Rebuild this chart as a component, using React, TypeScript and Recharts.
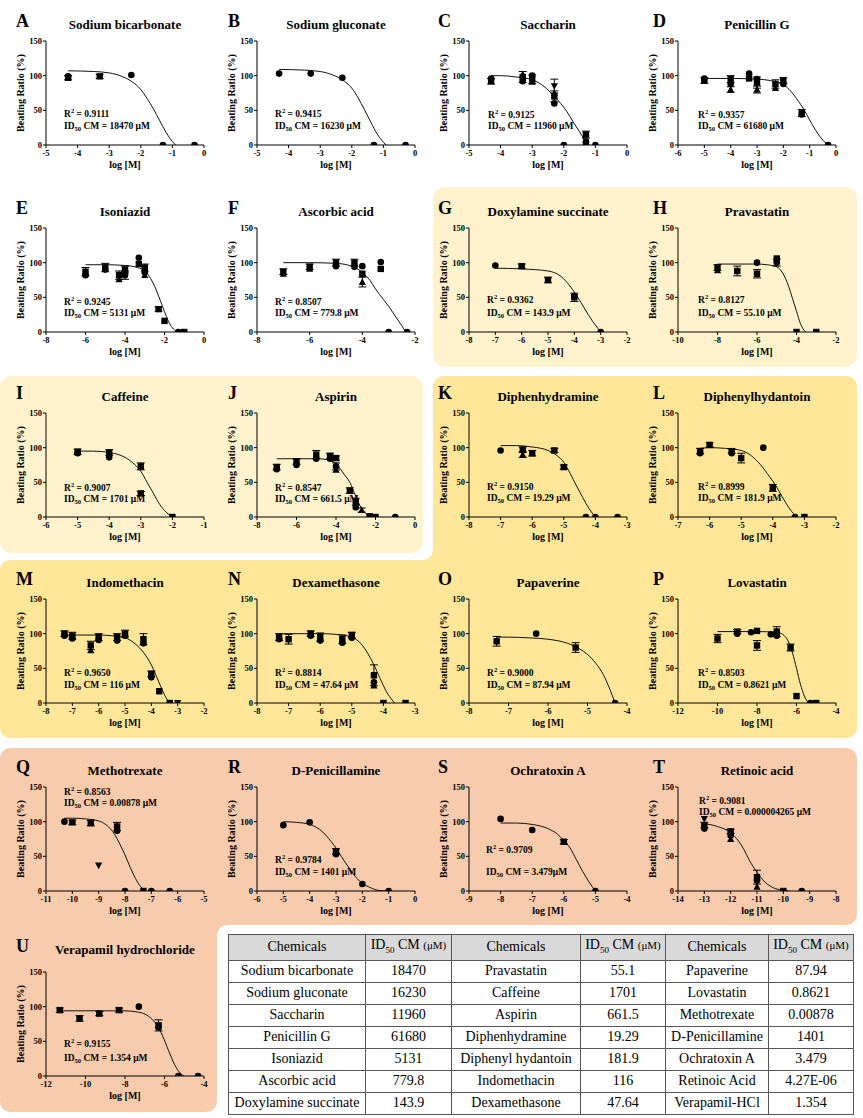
import React from 'react';
import { ComposedChart, Line, Scatter, XAxis, YAxis, ErrorBar } from 'recharts';

type Pair = [number, number];
// [log concentration, beating ratio %, replicate series (0 circle,1 square,2 triangle,3 inverted triangle), SEM]
type Obs = [number, number, number, number?];

const SERIF = "'Liberation Serif', 'Times New Roman', serif";

const letters = ['A', 'B', 'C', 'D', 'E', 'F', 'G', 'H', 'I', 'J', 'K', 'L', 'M', 'N', 'O', 'P', 'Q', 'R', 'S', 'T', 'U'];
const titles = [
  'Sodium bicarbonate', 'Sodium gluconate', 'Saccharin', 'Penicillin G',
  'Isoniazid', 'Ascorbic acid', 'Doxylamine succinate', 'Pravastatin',
  'Caffeine', 'Aspirin', 'Diphenhydramine', 'Diphenylhydantoin',
  'Indomethacin', 'Dexamethasone', 'Papaverine', 'Lovastatin',
  'Methotrexate', 'D-Penicillamine', 'Ochratoxin A', 'Retinoic acid',
  'Verapamil hydrochloride',
];
const r2Values = [
  '0.9111', '0.9415', '0.9125', '0.9357', '0.9245', '0.8507', '0.9362', '0.8127',
  '0.9007', '0.8547', '0.9150', '0.8999', '0.9650', '0.8814', '0.9000', '0.8503',
  '0.8563', '0.9784', '0.9709', '0.9081', '0.9155',
];
const id50Labels = [
  '18470 μM', '16230 μM', '11960 μM', '61680 μM', '5131 μM', '779.8 μM', '143.9 μM', '55.10 μM',
  '1701 μM', '661.5 μM', '19.29 μM', '181.9 μM', '116 μM', '47.64 μM', '87.94 μM', '0.8621 μM',
  '0.00878 μM', '1401 μM', '3.479μM', '0.000004265 μM', '1.354 μM',
];
const xDomains: Pair[] = [
  [-5, 0], [-5, 0], [-5, 0], [-6, 0],
  [-8, 0], [-8, -2], [-8, -2], [-10, -2],
  [-6, -1], [-8, 0], [-8, -3], [-7, -2],
  [-8, -2], [-8, -3], [-8, -4], [-12, -4],
  [-11, -5], [-6, 0], [-9, -4], [-14, -8],
  [-12, -4],
];
const xTickLists: number[][] = [
  [-5, -4, -3, -2, -1, 0], [-5, -4, -3, -2, -1, 0], [-5, -4, -3, -2, -1, 0], [-6, -5, -4, -3, -2, -1, 0],
  [-8, -6, -4, -2, 0], [-8, -6, -4, -2], [-8, -7, -6, -5, -4, -3, -2], [-10, -8, -6, -4, -2],
  [-6, -5, -4, -3, -2, -1], [-8, -6, -4, -2, 0], [-8, -7, -6, -5, -4, -3], [-7, -6, -5, -4, -3, -2],
  [-8, -7, -6, -5, -4, -3, -2], [-8, -7, -6, -5, -4, -3], [-8, -7, -6, -5, -4], [-12, -10, -8, -6, -4],
  [-11, -10, -9, -8, -7, -6, -5], [-6, -5, -4, -3, -2, -1, 0], [-9, -8, -7, -6, -5, -4], [-14, -13, -12, -11, -10, -9, -8],
  [-12, -10, -8, -6, -4],
];
const yTicks = [0, 50, 100, 150];

// fitted curves
const curveA: Pair[] = [[-4.3, 107], [-3.5, 106], [-3, 104], [-2.6, 99], [-2.3, 92], [-2, 80], [-1.8, 67], [-1.6, 52], [-1.4, 35], [-1.2, 18], [-1.0, 5], [-0.9, 0]];
const curveB: Pair[] = [[-4.3, 109], [-3.5, 108], [-3, 106], [-2.6, 101], [-2.3, 94], [-2, 82], [-1.8, 68], [-1.6, 51], [-1.4, 33], [-1.2, 16], [-1.0, 4], [-0.92, 0]];
const curveC: Pair[] = [[-4.3, 100], [-4, 100], [-3.5, 98], [-3, 94], [-2.7, 87], [-2.4, 75], [-2.1, 60], [-1.9, 48], [-1.7, 33], [-1.5, 19], [-1.35, 8], [-1.2, 0]];
const curveD: Pair[] = [[-5, 96], [-4, 96], [-3, 95], [-2.5, 93], [-2, 87], [-1.7, 77], [-1.5, 67], [-1.2, 50], [-1, 36], [-0.7, 17], [-0.5, 7], [-0.3, 0]];
const curveE: Pair[] = [[-6, 97], [-5, 97], [-4, 96], [-3.5, 94], [-3, 88], [-2.7, 77], [-2.5, 66], [-2.3, 52], [-2.1, 37], [-1.9, 22], [-1.7, 10], [-1.5, 3], [-1.3, 0]];
const curveF: Pair[] = [[-7, 100], [-6, 100], [-5, 99], [-4.5, 96], [-4, 86], [-3.7, 74], [-3.5, 62], [-3.2, 47], [-3, 37], [-2.7, 20], [-2.5, 9], [-2.35, 0]];
const curveG: Pair[] = [[-7, 92], [-6, 91], [-5, 88], [-4.5, 80], [-4.2, 68], [-3.9, 52], [-3.6, 33], [-3.3, 15], [-3.1, 5], [-3, 0]];
const curveH: Pair[] = [[-8, 98], [-7, 98], [-6, 98], [-5.5, 97], [-5, 94], [-4.7, 85], [-4.4, 66], [-4.2, 48], [-4, 30], [-3.8, 12], [-3.55, 0]];
const curveI: Pair[] = [[-5, 95], [-4.5, 95], [-4, 93], [-3.5, 86], [-3.2, 76], [-3, 66], [-2.8, 50], [-2.6, 34], [-2.4, 18], [-2.2, 7], [-2, 0]];
const curveJ: Pair[] = [[-7, 84], [-6, 84], [-5, 84], [-4.5, 83], [-4, 77], [-3.6, 62], [-3.3, 50], [-3.0, 30], [-2.8, 17], [-2.6, 8], [-2.4, 3], [-2.2, 1], [-2, 0]];
const curveK: Pair[] = [[-7, 103], [-6.5, 103], [-6, 101], [-5.5, 96], [-5.2, 88], [-5, 79], [-4.8, 63], [-4.6, 45], [-4.4, 28], [-4.2, 12], [-4, 0]];
const curveL: Pair[] = [[-6.3, 99], [-6, 100], [-5.5, 99], [-5, 96], [-4.7, 89], [-4.4, 76], [-4.1, 58], [-3.9, 45], [-3.7, 29], [-3.5, 14], [-3.3, 3], [-3.2, 0]];
const curveM: Pair[] = [[-7.3, 98], [-7, 98], [-6, 98], [-5.5, 97], [-5, 94], [-4.6, 85], [-4.3, 73], [-4, 55], [-3.8, 38], [-3.6, 20], [-3.4, 5], [-3.3, 0]];
const curveN: Pair[] = [[-7.3, 100], [-7, 100], [-6, 100], [-5.5, 99], [-5, 95], [-4.7, 85], [-4.5, 72], [-4.3, 55], [-4.1, 35], [-3.9, 16], [-3.7, 3], [-3.65, 0]];
const curveO: Pair[] = [[-7.3, 95], [-7, 95], [-6.5, 94], [-6, 92], [-5.5, 86], [-5.2, 78], [-5, 70], [-4.8, 58], [-4.6, 41], [-4.45, 22], [-4.3, 0]];
const curveP: Pair[] = [[-10, 103], [-9, 103], [-8, 103], [-7, 102], [-6.7, 99], [-6.4, 88], [-6.2, 72], [-6, 50], [-5.8, 27], [-5.6, 10], [-5.4, 1], [-5.3, 0]];
const curveQ: Pair[] = [[-10.3, 105], [-10, 105], [-9.5, 104], [-9, 101], [-8.7, 95], [-8.4, 82], [-8.2, 68], [-8, 52], [-7.8, 34], [-7.6, 18], [-7.4, 6], [-7.2, 0]];
const curveR: Pair[] = [[-5, 100], [-4.5, 99], [-4, 96], [-3.5, 85], [-3.2, 72], [-3, 62], [-2.8, 50], [-2.5, 33], [-2.2, 18], [-2, 11], [-1.7, 5], [-1.4, 1], [-1, 0]];
const curveS: Pair[] = [[-8, 98], [-7.5, 98], [-7, 96], [-6.5, 90], [-6.2, 82], [-6, 73], [-5.8, 62], [-5.6, 45], [-5.4, 28], [-5.2, 13], [-5, 0]];
const curveT: Pair[] = [[-13, 97], [-12.5, 93], [-12, 84], [-11.7, 72], [-11.5, 60], [-11.3, 45], [-11, 27], [-10.7, 13], [-10.4, 5], [-10, 1], [-9.8, 0]];
const curveU: Pair[] = [[-11.3, 94], [-10, 94], [-9, 94], [-8, 94], [-7.3, 92], [-6.8, 86], [-6.4, 74], [-6.1, 58], [-5.8, 37], [-5.5, 17], [-5.2, 4], [-5, 0]];

const obsA: Obs[] = [[-4.3, 97, 1, 3], [-4.3, 99, 0], [-3.3, 99, 1, 3], [-2.3, 101, 0], [-1.3, 0, 0], [-0.3, 0, 0]];
const obsB: Obs[] = [[-4.3, 103, 0], [-3.3, 103, 0], [-2.3, 97, 0], [-1.3, 0, 0], [-0.3, 0, 0]];
const obsC: Obs[] = [
  [-4.3, 92, 1, 4], [-4.3, 96, 0], [-3.3, 98, 1, 8], [-3.3, 92, 0], [-3.3, 102, 2], [-3, 95, 1, 6], [-3, 100, 0], [-3, 91, 2],
  [-2.3, 85, 3, 10], [-2.3, 70, 1, 8], [-2.3, 60, 0], [-2.3, 75, 2], [-2, 0, 0], [-1.3, 15, 1, 5], [-1.3, 5, 0], [-1.3, 0, 1], [-1, 0, 0],
];
const obsD: Obs[] = [
  [-5, 93, 1, 4], [-5, 96, 0], [-4, 95, 1, 5], [-4, 88, 0], [-4, 80, 2, 4], [-3.3, 103, 0], [-3.3, 96, 1],
  [-3, 90, 1, 8], [-3, 80, 2, 5], [-3, 95, 0], [-2.3, 88, 1, 6], [-2.3, 82, 2], [-2, 93, 1, 4], [-2, 88, 0],
  [-1.3, 46, 1, 5], [-1.3, 44, 0], [-0.3, 0, 0],
];
const obsE: Obs[] = [
  [-6, 87, 1, 6], [-6, 82, 0], [-5, 93, 1, 6], [-5, 90, 0], [-4.3, 82, 1, 6], [-4.3, 76, 2], [-4, 90, 1, 5], [-4, 82, 0, 6],
  [-3.3, 107, 0], [-3.3, 98, 1], [-3, 93, 1, 5], [-3, 86, 0], [-3, 82, 2], [-2.3, 33, 1, 3], [-2, 16, 1], [-1.3, 0, 0], [-1, 0, 1],
];
const obsF: Obs[] = [
  [-7, 87, 1, 4], [-7, 84, 2], [-6, 94, 1, 4], [-6, 91, 2], [-5, 100, 1, 5], [-5, 95, 0], [-4.3, 100, 1, 5], [-4.3, 94, 0],
  [-4, 95, 0], [-4, 84, 1], [-4, 72, 2, 7], [-3.3, 101, 0], [-3.3, 91, 1], [-3, 0, 0], [-2.3, 0, 0],
];
const obsG: Obs[] = [[-7, 96, 0], [-6, 95, 1, 3], [-5, 75, 1, 4], [-4, 50, 1, 6], [-4, 52, 0], [-3, 0, 0]];
const obsH: Obs[] = [
  [-8, 93, 1, 4], [-8, 89, 2], [-7, 88, 1, 7], [-6, 100, 0], [-6, 84, 1, 6], [-5, 106, 1], [-5, 100, 0, 5], [-4, 0, 1], [-3, 0, 1],
];
const obsI: Obs[] = [[-5, 94, 1, 4], [-5, 92, 0], [-4, 93, 1, 4], [-4, 86, 0], [-3, 73, 1, 5], [-3, 34, 1, 3], [-2, 0, 1]];
const obsJ: Obs[] = [
  [-7, 72, 1, 4], [-7, 69, 0], [-6, 80, 1, 4], [-6, 75, 0], [-5, 90, 1, 6], [-5, 84, 0], [-4.3, 88, 1, 4], [-4.3, 84, 0],
  [-4, 85, 1, 3], [-4, 73, 0, 5], [-4, 68, 2], [-3.3, 38, 1, 4], [-3, 22, 1, 5], [-3, 14, 0], [-2.7, 10, 2, 3],
  [-2.3, 1, 1], [-2, 0, 1], [-1, 0, 0],
];
const obsK: Obs[] = [
  [-7, 96, 0], [-6.3, 97, 1, 4], [-6.3, 90, 2, 4], [-6, 92, 1, 4], [-5.3, 96, 1, 3], [-5, 72, 1, 3], [-4.3, 0, 0], [-4, 0, 0], [-3.3, 0, 0],
];
const obsL: Obs[] = [
  [-6.3, 95, 1, 4], [-6.3, 92, 0], [-6, 104, 1, 3], [-5.3, 95, 1, 3], [-5.3, 92, 0], [-5, 85, 1, 7], [-4.3, 100, 0],
  [-4, 42, 1, 5], [-3.3, 0, 0], [-3, 0, 1],
];
const obsM: Obs[] = [
  [-7.3, 100, 1, 4], [-7.3, 97, 0], [-7, 97, 1, 5], [-7, 93, 0], [-6.3, 83, 1, 6], [-6.3, 76, 2], [-6, 95, 1, 5], [-6, 91, 0],
  [-5.3, 95, 1, 5], [-5.3, 90, 0], [-5, 100, 1, 5], [-5, 97, 0], [-4.3, 92, 1, 8], [-4.3, 86, 0], [-4, 42, 1, 4], [-4, 37, 0],
  [-3.7, 17, 1], [-3.3, 0, 1], [-3, 0, 3],
];
const obsN: Obs[] = [
  [-7.3, 95, 1, 5], [-7.3, 92, 0], [-7, 92, 1, 7], [-6.3, 100, 1, 4], [-6.3, 97, 0], [-6, 95, 1, 6], [-6, 90, 0],
  [-5.3, 92, 1, 6], [-5.3, 87, 0], [-5, 98, 1, 4], [-5, 94, 0], [-4.3, 40, 1, 15], [-4.3, 30, 0], [-4.3, 25, 2],
  [-4, 0, 1], [-3.3, 0, 1],
];
const obsO: Obs[] = [[-7.3, 89, 1, 7], [-6.3, 100, 0], [-5.3, 80, 1, 7], [-4.3, 0, 0]];
const obsP: Obs[] = [
  [-10, 93, 1, 6], [-9, 103, 1, 3], [-9, 100, 0], [-8.3, 102, 0], [-8, 104, 1], [-8, 83, 1, 7], [-7.3, 99, 0],
  [-7, 103, 1, 7], [-7, 97, 0], [-6.3, 80, 1, 5], [-6, 10, 1], [-5.3, 0, 0], [-5, 0, 1],
];
const obsQ: Obs[] = [
  [-10.3, 100, 0], [-10, 99, 1, 3], [-9.3, 98, 1, 4], [-9, 37, 3], [-8.3, 93, 1, 6], [-8.3, 87, 0],
  [-8, 0, 0], [-7.3, 0, 1], [-7, 0, 0], [-6.3, 0, 0],
];
const obsR: Obs[] = [[-5, 95, 0], [-4, 99, 0], [-3, 57, 1, 4], [-3, 53, 0], [-2, 10, 0], [-1, 0, 0]];
const obsS: Obs[] = [[-8, 104, 0], [-7, 88, 0], [-6, 71, 1, 3], [-5, 0, 0]];
const obsT: Obs[] = [
  [-13, 104, 3], [-13, 95, 1, 4], [-13, 90, 0], [-12, 86, 1, 3], [-12, 80, 0], [-12, 75, 2],
  [-11, 20, 1, 10], [-11, 15, 0], [-11, 6, 2], [-10, 0, 1], [-9.3, 0, 0],
];
const obsU: Obs[] = [
  [-11.3, 95, 1, 3], [-10.3, 83, 1, 4], [-9.3, 90, 1, 3], [-8.3, 95, 1, 3], [-7.3, 100, 0], [-6.3, 73, 1, 8], [-6.3, 70, 0],
  [-5.3, 0, 0], [-4.3, 0, 0],
];

const curves = [curveA, curveB, curveC, curveD, curveE, curveF, curveG, curveH, curveI, curveJ, curveK, curveL, curveM, curveN, curveO, curveP, curveQ, curveR, curveS, curveT, curveU];
const observations = [obsA, obsB, obsC, obsD, obsE, obsF, obsG, obsH, obsI, obsJ, obsK, obsL, obsM, obsN, obsO, obsP, obsQ, obsR, obsS, obsT, obsU];

// summary table
const tableChemicals = [
  'Sodium bicarbonate', 'Sodium gluconate', 'Saccharin', 'Penicillin G', 'Isoniazid', 'Ascorbic acid', 'Doxylamine succinate',
  'Pravastatin', 'Caffeine', 'Aspirin', 'Diphenhydramine', 'Diphenyl hydantoin', 'Indomethacin', 'Dexamethasone',
  'Papaverine', 'Lovastatin', 'Methotrexate', 'D-Penicillamine', 'Ochratoxin A', 'Retinoic Acid', 'Verapamil-HCl',
];
const tableValues = [
  '18470', '16230', '11960', '61680', '5131', '779.8', '143.9',
  '55.1', '1701', '661.5', '19.29', '181.9', '116', '47.64',
  '87.94', '0.8621', '0.00878', '1401', '3.479', '4.27E-06', '1.354',
];

// ---------- layout ----------
const PLOT_W = 158;
const PLOT_H = 104;
const colLeft = [46, 257, 469, 678];
const rowTop = [41, 228, 413, 599, 787, 972];
const letterX = [16, 228, 438, 653];
const annot: [number, number, number][] = [
  [18, 72, 12], [18, 72, 12], [19, 73, 11], [20, 73, 11],
  [18, 73, 11], [18, 73, 11], [18, 71, 13], [20, 71, 13],
  [18, 74, 11], [18, 74, 11], [18, 73, 11], [20, 73, 11],
  [18, 73, 12], [18, 73, 12], [18, 73, 12], [20, 73, 12],
  [18, 4, 11], [18, 72, 12], [17, 62, 22], [21, 13, 11],
  [18, 71, 14],
];
const tableColWidths = [137, 86, 129, 85, 103, 85];

const boldCss = (size: number): React.CSSProperties => ({
  fontFamily: SERIF,
  fontSize: size,
  fontWeight: 700,
  fill: '#000',
});
const tickCss = boldCss(8.5);

function XTick(p: any) {
  return (
    <text x={p.x} y={p.y + 6.5} textAnchor="middle" style={tickCss}>
      {p.payload.value}
    </text>
  );
}
function YTick(p: any) {
  return (
    <text x={p.x} y={p.y + 3} textAnchor="end" style={tickCss}>
      {p.payload.value}
    </text>
  );
}

function Marker({ cx, cy, g }: { cx: number; cy: number; g: number }) {
  if (cx == null || cy == null) return null;
  if (g === 0) return <circle cx={cx} cy={cy} r={3.3} fill="#000" />;
  if (g === 1) return <rect x={cx - 3.2} y={cy - 3.2} width={6.4} height={6.4} fill="#000" />;
  if (g === 2) return <path d={`M${cx},${cy - 3.8}L${cx + 3.6},${cy + 2.9}L${cx - 3.6},${cy + 2.9}Z`} fill="#000" />;
  return <path d={`M${cx},${cy + 3.8}L${cx + 3.6},${cy - 2.9}L${cx - 3.6},${cy - 2.9}Z`} fill="#000" />;
}

function Panel({ i }: { i: number }) {
  const col = i % 4;
  const row = Math.floor(i / 4);
  const left = colLeft[col];
  const top = rowTop[row];
  const obs = observations[i];
  const groups = [0, 1, 2, 3].map((g) =>
    obs.filter((o) => o[2] === g).map((o) => ({ x: o[0], y: o[1], e: o[3] }))
  );
  const curve = curves[i].map(([x, y]) => ({ x, y }));
  return (
    <div style={{ position: 'absolute', left: left - 40, top: top - 8 }}>
      <ComposedChart width={40 + PLOT_W + 14} height={8 + PLOT_H + 20} margin={{ top: 8, right: 14, bottom: 0, left: 0 }}>
        <XAxis
          type="number"
          dataKey="x"
          domain={xDomains[i]}
          ticks={xTickLists[i]}
          allowDataOverflow
          interval={0}
          height={20}
          tickSize={3}
          tickMargin={1}
          axisLine={{ stroke: '#000' }}
          tickLine={{ stroke: '#000' }}
          tick={XTick}
        />
        <YAxis
          type="number"
          dataKey="y"
          domain={[0, 150]}
          ticks={yTicks}
          allowDataOverflow
          interval={0}
          width={40}
          tickSize={3}
          tickMargin={1}
          axisLine={{ stroke: '#000' }}
          tickLine={{ stroke: '#000' }}
          tick={YTick}
        />
        <Line
          data={curve}
          dataKey="y"
          type="monotone"
          dot={false}
          activeDot={false}
          stroke="#111"
          strokeWidth={1}
          isAnimationActive={false}
        />
        {groups.map((d, g) =>
          d.length ? (
            <Scatter
              key={g}
              data={d}
              isAnimationActive={false}
              shape={(p: any) => <Marker cx={p.cx} cy={p.cy} g={g} />}
            >
              <ErrorBar dataKey="e" direction="y" width={4} stroke="#000" strokeWidth={1} isAnimationActive={false} />
            </Scatter>
          ) : null
        )}
      </ComposedChart>
    </div>
  );
}

function PanelText({ i }: { i: number }) {
  const col = i % 4;
  const row = Math.floor(i / 4);
  const left = colLeft[col];
  const top = rowTop[row];
  const lift = row === 5 ? 6 : 0;
  const [ax, ay, gap] = annot[i];
  return (
    <g>
      <text x={letterX[col]} y={top - 14 - lift} style={boldCss(18)}>{letters[i]}</text>
      <text x={left + PLOT_W / 2} y={top - 12.5 - lift} style={boldCss(13)} textAnchor="middle">{titles[i]}</text>
      <text
        transform={`translate(${left - 22},${top + PLOT_H / 2}) rotate(-90)`}
        style={boldCss(10)}
        textAnchor="middle"
      >
        Beating Ratio (%)
      </text>
      <text x={left + PLOT_W / 2} y={top + PLOT_H + 22.5} style={boldCss(10)} textAnchor="middle">log [M]</text>
      <text x={left + ax} y={top + ay + 3.5} style={boldCss(9.5)}>
        R<tspan dy={-4} style={{ fontSize: 6.5 }}>2</tspan><tspan dy={4}> = {r2Values[i]}</tspan>
      </text>
      <text x={left + ax} y={top + ay + gap + 3.5} style={boldCss(9.5)}>
        ID<tspan dy={2} style={{ fontSize: 6.5 }}>50</tspan><tspan dy={-2}> CM = {id50Labels[i]}</tspan>
      </text>
    </g>
  );
}

function Backgrounds() {
  return (
    <svg width={863} height={1118} style={{ position: 'absolute', left: 0, top: 0 }}>
      <rect x={433} y={187} width={424} height={180} rx={12} fill="#FFF2CC" />
      <rect x={0} y={376} width={423} height={177} rx={12} fill="#FFF2CC" />
      <path
        d="M445,376 H845 Q857,376 857,388 V726 Q857,738 845,738 H12 Q0,738 0,726 V572 Q0,560 12,560 H421 Q433,560 433,548 V388 Q433,376 445,376 Z"
        fill="#FFE699"
      />
      <path
        d="M12,748 H845 Q857,748 857,760 V913 Q857,925 845,925 H229 Q217,925 217,937 V1100 Q217,1112 205,1112 H12 Q0,1112 0,1100 V760 Q0,748 12,748 Z"
        fill="#F8CBAD"
      />
    </svg>
  );
}

function SummaryTable() {
  const cell: React.CSSProperties = {
    border: '1px solid #555',
    padding: 0,
    textAlign: 'center',
    whiteSpace: 'nowrap',
    overflow: 'hidden',
    lineHeight: '20px',
  };
  const rows = [0, 1, 2, 3, 4, 5, 6];
  const header = (
    <>
      <td style={cell}>Chemicals</td>
      <td style={cell}>
        ID<sub style={{ fontSize: 9 }}>50</sub> CM <span style={{ fontSize: 11 }}>(μM)</span>
      </td>
    </>
  );
  return (
    <table
      style={{
        position: 'absolute',
        left: 228,
        top: 934,
        width: 625,
        borderCollapse: 'collapse',
        tableLayout: 'fixed',
        fontFamily: SERIF,
        fontSize: 14,
        background: '#fff',
        color: '#000',
      }}
    >
      <colgroup>
        {tableColWidths.map((w, k) => (
          <col key={k} style={{ width: w }} />
        ))}
      </colgroup>
      <tbody>
        <tr style={{ height: 22, background: '#d9d9d9' }}>
          {header}
          {header}
          {header}
        </tr>
        {rows.map((r) => (
          <tr key={r} style={{ height: 22 }}>
            {[0, 1, 2].map((k) => (
              <React.Fragment key={k}>
                <td style={cell}>{tableChemicals[k * 7 + r]}</td>
                <td style={cell}>{tableValues[k * 7 + r]}</td>
              </React.Fragment>
            ))}
          </tr>
        ))}
      </tbody>
    </table>
  );
}

export default function App() {
  return (
    <div
      style={{
        position: 'absolute',
        left: 0,
        top: 0,
        width: 863,
        height: 1116,
        background: '#fff',
        overflow: 'hidden',
        fontFamily: SERIF,
      }}
    >
      <Backgrounds />
      {letters.map((_, i) => (
        <Panel key={i} i={i} />
      ))}
      <svg width={863} height={1118} style={{ position: 'absolute', left: 0, top: 0, pointerEvents: 'none' }}>
        {letters.map((_, i) => (
          <PanelText key={i} i={i} />
        ))}
      </svg>
      <SummaryTable />
    </div>
  );
}
